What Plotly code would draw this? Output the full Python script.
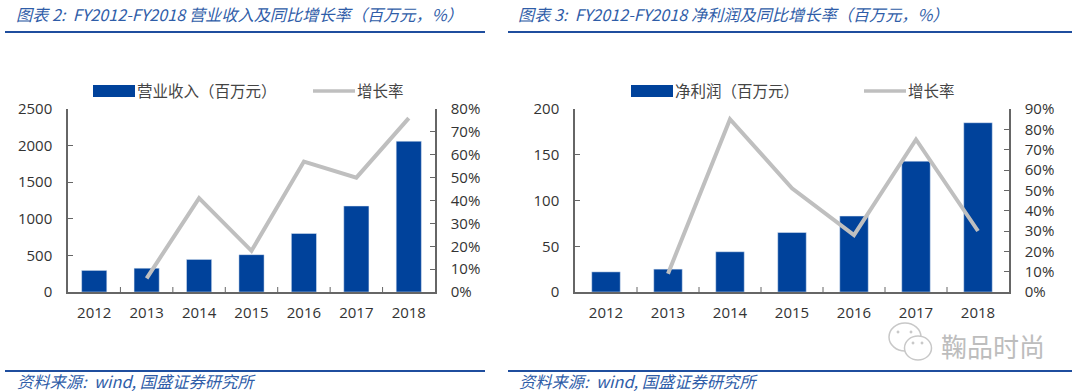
import plotly.graph_objects as go

categories = ["2012", "2013", "2014", "2015", "2016", "2017", "2018"]
revenue = [295, 325, 445, 510, 800, 1175, 2060]
revenue_growth = [None, 6, 41, 18, 57, 50, 76]
profit = [22, 25, 44, 65, 83, 143, 185]
profit_growth = [None, 9, 85, 51, 28, 75, 30]
left_ticks = [0, 500, 1000, 1500, 2000, 2500]
left_growth_ticks = [0, 10, 20, 30, 40, 50, 60, 70, 80]
right_ticks = [0, 50, 100, 150, 200]
right_growth_ticks = [0, 10, 20, 30, 40, 50, 60, 70, 80, 90]
title_left = "图表 2:  FY2012-FY2018 营业收入及同比增长率（百万元，%）"
title_right = "图表 3:  FY2012-FY2018 净利润及同比增长率（百万元，%）"
source = "资料来源:  wind, 国盛证券研究所"
legend_bar_left = "营业收入（百万元）"
legend_bar_right = "净利润（百万元）"
legend_line = "增长率"
watermark = "鞠品时尚"

W, H = 1080, 392
BLUE = "#00429B"
GREY = "#BFBFBF"
AXIS = "#666666"
TITLE = "#2F5DA8"
CJK = "Noto Sans CJK SC"
TICK = "Open Sans"


def px(x):
    return x / W


def py(y):
    return 1 - y / H


fig = go.Figure()
fig.add_bar(x=categories, y=revenue, xaxis="x", yaxis="y", marker_color=BLUE, width=0.48, showlegend=False)
fig.add_scatter(x=categories, y=revenue_growth, xaxis="x", yaxis="y2", mode="lines",
                line=dict(color=GREY, width=4), showlegend=False, connectgaps=False)
fig.add_bar(x=categories, y=profit, xaxis="x2", yaxis="y3", marker_color=BLUE, width=0.46, showlegend=False)
fig.add_scatter(x=categories, y=profit_growth, xaxis="x2", yaxis="y4", mode="lines",
                line=dict(color=GREY, width=4), showlegend=False, connectgaps=False)

top, bottom = py(292), py(109)
tickfont = dict(family=TICK, size=15, color="#333333")
xcommon = dict(type="category", showline=True, linecolor=AXIS, linewidth=1.5, mirror=False,
               ticks="", showgrid=False, tickfont=tickfont, ticklen=0, range=[-0.5, 6.5],
               ticklabelstandoff=6)
ycommon = dict(showline=True, linecolor=AXIS, linewidth=1.5, ticks="inside", ticklen=5,
               tickcolor=AXIS, tickwidth=1, showgrid=False, zeroline=False, tickfont=tickfont,
               ticklabelstandoff=11)

fig.update_layout(
    width=W, height=H, autosize=False, margin=dict(l=0, r=0, t=0, b=0, autoexpand=False),
    paper_bgcolor="white", plot_bgcolor="white", bargap=0.5,
    xaxis=dict(domain=[px(68), px(435)], anchor="y", **xcommon),
    xaxis2=dict(domain=[px(575), px(1009)], anchor="y3", **xcommon),
    yaxis=dict(domain=[top, bottom], anchor="x", range=[0, 2500], tickvals=left_ticks, **ycommon),
    yaxis2=dict(domain=[top, bottom], anchor="x", overlaying="y", side="right", range=[0, 80],
                tickvals=left_growth_ticks, ticktext=[f"{v}%" for v in left_growth_ticks], **ycommon),
    yaxis3=dict(domain=[top, bottom], anchor="x2", range=[0, 200], tickvals=right_ticks, **ycommon),
    yaxis4=dict(domain=[top, bottom], anchor="x2", overlaying="y3", side="right", range=[0, 90],
                tickvals=right_growth_ticks, ticktext=[f"{v}%" for v in right_growth_ticks], **ycommon),
)

shapes = []
annotations = []


def rule(x0, x1, y, color="#1F4E9E", w=2):
    shapes.append(dict(type="line", xref="paper", yref="paper", x0=px(x0), x1=px(x1), y0=py(y), y1=py(y),
                       line=dict(color=color, width=w)))


def text(x, y, s, size, color, family=CJK, italic=False, anchor="left"):
    annotations.append(dict(xref="paper", yref="paper", x=px(x), y=py(y), text=s, showarrow=False,
                            xanchor=anchor, yanchor="middle", align="left",
                            font=dict(family=family, size=size, color=color,
                                      style="italic" if italic else "normal")))


def ring(cx, cy, rx, ry, fill="white", line="#C8C8C8", w=1.5):
    shapes.append(dict(type="circle", xref="paper", yref="paper", x0=px(cx - rx), x1=px(cx + rx),
                       y0=py(cy + ry), y1=py(cy - ry), fillcolor=fill, line=dict(color=line, width=w)))


# header and footer rules
rule(5, 485, 32)
rule(508, 1072, 32)
rule(5, 485, 371)
rule(508, 1072, 371)
text(14, 14, title_left, 16.2, TITLE, italic=True)
text(516, 14, title_right, 16.2, TITLE, italic=True)
text(15, 381, source, 16.3, TITLE, italic=True)
text(517, 381, source, 16.3, TITLE, italic=True)

# legends
for x0, x1, lx0, lx1, label, tx, ltx in [
    (93, 135, 313, 355, legend_bar_left, 135, 355),
    (631, 673, 864, 906, legend_bar_right, 673, 906),
]:
    shapes.append(dict(type="rect", xref="paper", yref="paper", x0=px(x0), x1=px(x1), y0=py(97), y1=py(85),
                       fillcolor=BLUE, line=dict(width=0)))
    rule(lx0, lx1, 91, GREY, 3.5)
    text(tx, 90, label, 15.5, "#444444")
    text(ltx, 90, legend_line, 15.5, "#444444")

# category separators on the x axes
for x0, x1 in [(68, 435), (575, 1009)]:
    step = (x1 - x0) / len(categories)
    for i in range(1, len(categories)):
        xp = x0 + i * step
        shapes.append(dict(type="line", xref="paper", yref="paper", x0=px(xp), x1=px(xp), y0=py(292), y1=py(287),
                           line=dict(color=AXIS, width=1)))

# watermark
ring(905, 337, 16, 14)
ring(918, 348, 13.5, 12)
for ex, ey in [(898, 332), (911, 332), (913, 343), (922, 343)]:
    ring(ex, ey, 1.2, 1.2, "#C8C8C8", "#C8C8C8", 0.5)
text(939, 345, watermark, 26, "#BDBDBD")

fig.update_layout(shapes=shapes, annotations=annotations)
fig.write_html("out.html", post_script="document.body.style.margin='0';",
               config=dict(displayModeBar=False))
